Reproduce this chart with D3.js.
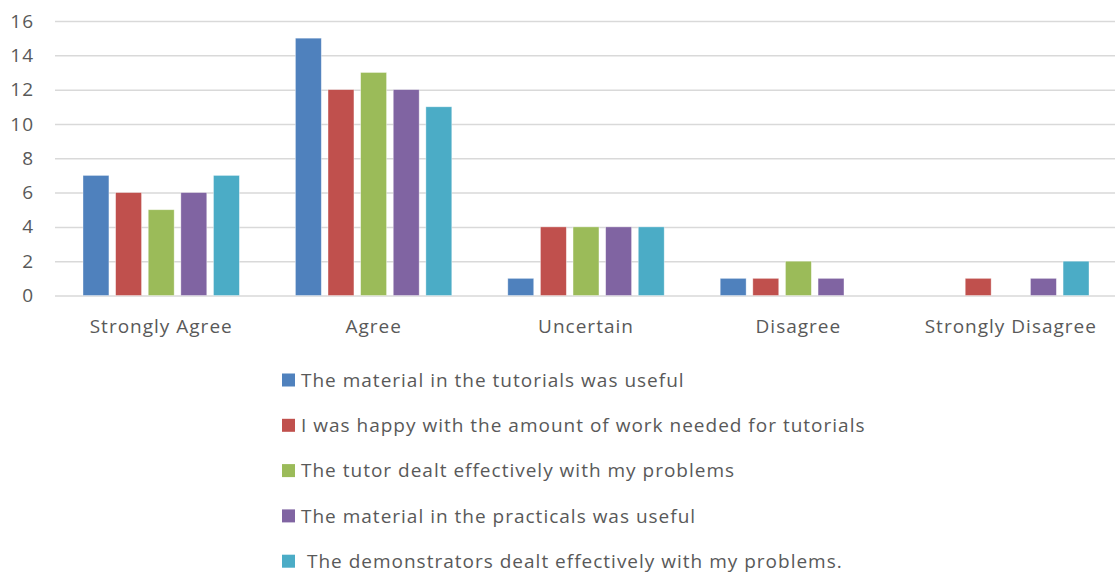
<!DOCTYPE html>
<html>
<head>
<meta charset="utf-8">
<script src="https://cdn.jsdelivr.net/npm/d3@7"></script>
<style>
  body { margin: 0; background: #fff; }
  svg text { font-family: "Open Sans", sans-serif; fill: #595959; }
</style>
</head>
<body>
<div id="chart"></div>
<script>
// categories on the x axis
var categories = ['Strongly Agree', 'Agree', 'Uncertain', 'Disagree', 'Strongly Disagree'];

// one array per series, values in category order
var seriesNames = [
  'The material in the tutorials was useful',
  'I was happy with the amount of work needed for tutorials',
  'The tutor dealt effectively with my problems',
  'The material in the practicals was useful',
  ' The demonstrators dealt effectively with my problems.'
];
var tutorialsUseful = [7, 15, 1, 1, 0];
var workAmount = [6, 12, 4, 1, 1];
var tutorEffective = [5, 13, 4, 2, 0];
var practicalsUseful = [6, 12, 4, 1, 1];
var demonstrators = [7, 11, 4, 0, 2];
var seriesValues = [tutorialsUseful, workAmount, tutorEffective, practicalsUseful, demonstrators];

var yTicks = [0, 2, 4, 6, 8, 10, 12, 14, 16];
var colors = ['#4f81bd', '#c0504d', '#9bbb59', '#8064a2', '#4bacc6'];

var width = 1115, height = 575;
var margin = { top: 21, right: 0, bottom: 280, left: 55 };
var plotW = 1117 - margin.left;
var plotH = 295.5 - margin.top;
var fontSize = '19px';
var spacing = '1px';

var svg = d3.select('#chart').append('svg')
  .attr('width', width)
  .attr('height', height);

var g = svg.append('g')
  .attr('transform', 'translate(' + margin.left + ',' + margin.top + ')');

var x0 = d3.scaleBand()
  .domain(categories)
  .range([0, plotW]);

var x1 = d3.scaleBand()
  .domain(d3.range(seriesNames.length))
  .range([28, x0.bandwidth() - 28])
  .paddingInner(0.205);

var y = d3.scaleLinear()
  .domain([0, 16])
  .range([plotH, 0]);

// gridlines + y labels
var yAxis = d3.axisLeft(y)
  .tickValues(yTicks)
  .tickSizeInner(-plotW)
  .tickSizeOuter(0)
  .tickPadding(21);

var gy = g.append('g').attr('class', 'y axis').call(yAxis);
gy.select('.domain').remove();
gy.selectAll('line')
  .attr('stroke', '#d9d9d9')
  .attr('stroke-width', 1.5);
gy.selectAll('text')
  .style('font-size', fontSize)
  .style('letter-spacing', spacing)
  .attr('fill', '#595959');

// bars
var groups = g.append('g').selectAll('.cat')
  .data(categories)
  .enter()
  .append('g')
  .attr('transform', function (d) { return 'translate(' + x0(d) + ',0)'; });

groups.selectAll('rect')
  .data(function (c, ci) {
    return seriesValues.map(function (vals, si) { return { s: si, v: vals[ci] }; });
  })
  .enter()
  .filter(function (d) { return d.v > 0; })
  .append('rect')
  .attr('x', function (d) { return x1(d.s); })
  .attr('width', x1.bandwidth())
  .attr('y', function (d) { return y(d.v); })
  .attr('height', function (d) { return y(0) - y(d.v); })
  .attr('fill', function (d) { return colors[d.s]; })
  .attr('stroke', 'rgba(255,255,255,0.5)')
  .attr('stroke-width', 0.75);

// x labels
var xAxis = d3.axisBottom(x0)
  .tickSize(0)
  .tickPadding(24);
var gx = g.append('g')
  .attr('transform', 'translate(0,' + plotH + ')')
  .call(xAxis);
gx.select('.domain').remove();
gx.selectAll('text')
  .style('font-size', fontSize)
  .style('letter-spacing', spacing)
  .attr('fill', '#595959');

// legend
var legend = svg.append('g').attr('transform', 'translate(282,380)');
var items = legend.selectAll('.item')
  .data(seriesNames)
  .enter()
  .append('g')
  .attr('transform', function (d, i) { return 'translate(0,' + (i * 45.3) + ')'; });
items.append('rect')
  .attr('x', 0)
  .attr('y', -6.5)
  .attr('width', 13)
  .attr('height', 13)
  .attr('fill', function (d, i) { return colors[i]; });
items.append('text')
  .attr('x', 19)
  .attr('y', 0)
  .attr('dy', '0.35em')
  .style('font-size', fontSize)
  .style('letter-spacing', spacing)
  .style('white-space', 'pre')
  .attr('xml:space', 'preserve')
  .text(function (d) { return d; });
</script>
</body>
</html>
